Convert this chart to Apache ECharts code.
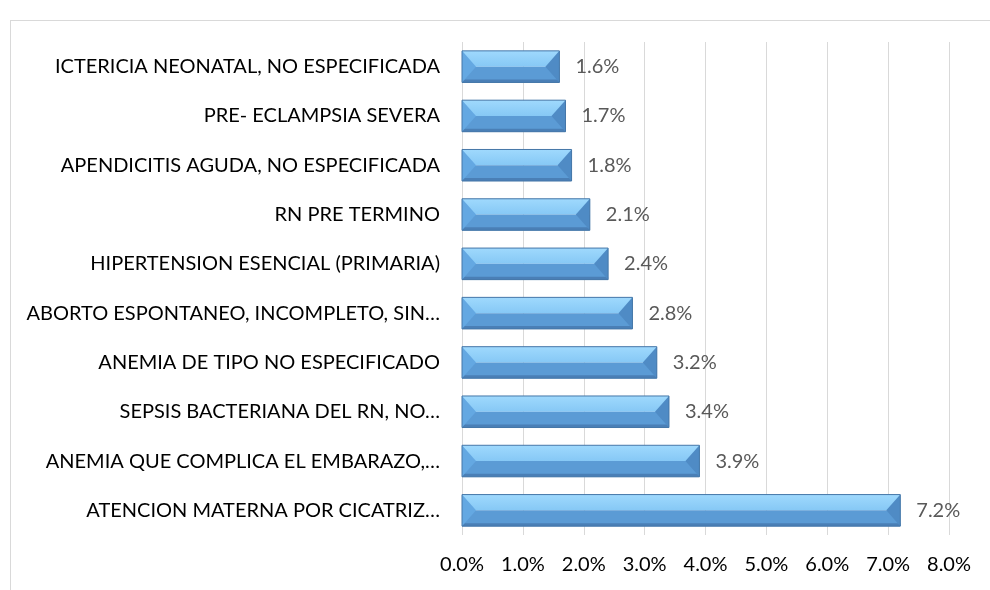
<!DOCTYPE html>
<html>
<head>
<meta charset="utf-8">
<script src="https://cdn.jsdelivr.net/npm/echarts@6/dist/echarts.min.js"></script>
<style>
  html, body { margin: 0; padding: 0; background: #fff; }
  #frame { position: absolute; left: 10px; top: 20px; width: 990px; height: 580px; border: 1px solid #d9d9d9; box-sizing: border-box; }
  #contain { position: absolute; left: 0; top: 0; width: 990px; height: 590px; }
</style>
</head>
<body>
<div id="frame"></div>
<div id="contain"></div>
<script>
// categorias de arriba hacia abajo
var categories = [
    "ICTERICIA NEONATAL, NO ESPECIFICADA",
    "PRE- ECLAMPSIA SEVERA",
    "APENDICITIS AGUDA, NO ESPECIFICADA",
    "RN PRE TERMINO",
    "HIPERTENSION ESENCIAL (PRIMARIA)",
    "ABORTO ESPONTANEO, INCOMPLETO, SIN\u2026",
    "ANEMIA DE TIPO NO ESPECIFICADO",
    "SEPSIS BACTERIANA DEL RN, NO\u2026",
    "ANEMIA QUE COMPLICA EL EMBARAZO,\u2026",
    "ATENCION MATERNA POR CICATRIZ\u2026"
];
var values = [1.6, 1.7, 1.8, 2.1, 2.4, 2.8, 3.2, 3.4, 3.9, 7.2];
var xTicks = [0, 1, 2, 3, 4, 5, 6, 7, 8];

var FONT = "Lato";
var FSIZE = 20;

/**
 * barra con bisel
 */
function renderBar(params, api) {
    var idx = api.value(0);
    var val = api.value(1);
    var p0 = api.coord([0, idx]);
    var p1 = api.coord([val, idx]);
    var h = api.size([0, 1])[1] * 0.64;
    var x0 = p0[0], x1 = p1[0];
    var y0 = p0[1] - h / 2, y1 = p0[1] + h / 2, ym = p0[1];
    var b = 14;
    return {
        type: 'group',
        children: [
            {type: 'rect', shape: {x: x0, y: y0, width: x1 - x0, height: h / 2},
                style: {fill: new echarts.graphic.LinearGradient(0, 0, 0, 1, [
                    {offset: 0, color: '#9fd9fd'}, {offset: 1, color: '#86c8f5'}])}},
            {type: 'rect', shape: {x: x0, y: ym, width: x1 - x0, height: h / 2},
                style: {fill: '#5b9bd5'}},
            {type: 'rect', shape: {x: x0, y: y1 - 3, width: x1 - x0, height: 3},
                style: {fill: '#4a7fb6'}},
            {type: 'polygon', shape: {points: [[x0, y0], [x0 + b, ym], [x0, y1]]},
                style: {fill: '#64a8e2'}},
            {type: 'polygon', shape: {points: [[x1, y0], [x1 - b, ym], [x1, y1]]},
                style: {fill: '#4f8bc5'}},
            {type: 'rect', shape: {x: x0, y: y0, width: x1 - x0, height: h},
                style: {fill: null, stroke: '#4577a8', lineWidth: 1}},
            {type: 'text', x: x1 + 16, y: ym,
                style: {text: val.toFixed(1) + '%', fill: '#595959', font: FSIZE + 'px ' + FONT,
                    textVerticalAlign: 'middle', verticalAlign: 'middle'}}
        ]
    };
}

var myChart = echarts.init(document.getElementById("contain"));
myChart.setOption({
    animation: false,
    grid: {
        left: 462,
        right: 41,
        top: 42,
        bottom: 55
    },
    xAxis: {
        type: 'value',
        min: xTicks[0],
        max: xTicks[xTicks.length - 1],
        interval: 1,
        axisLine: {show: false},
        axisTick: {show: false},
        splitLine: {lineStyle: {color: '#d9d9d9', width: 1}},
        axisLabel: {
            color: '#000',
            fontSize: FSIZE,
            fontFamily: FONT,
            margin: 20,
            formatter: function (v) { return v.toFixed(1) + '%'; }
        }
    },
    yAxis: {
        type: 'category',
        inverse: true,
        data: categories,
        axisLine: {show: false},
        axisTick: {show: false},
        axisLabel: {
            color: '#000',
            fontSize: FSIZE,
            fontFamily: FONT,
            margin: 22
        }
    },
    series: [{
        type: 'custom',
        renderItem: renderBar,
        encode: {x: 1, y: 0},
        data: values.map(function (v, i) { return [i, v]; })
    }]
});
</script>
</body>
</html>
